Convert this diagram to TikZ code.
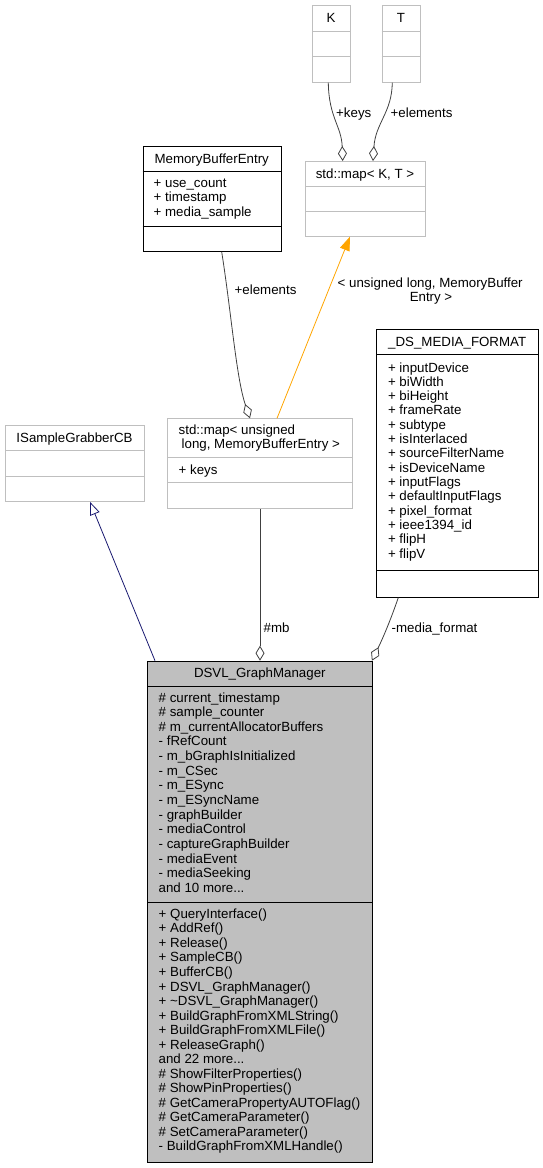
\documentclass[tikz,border=0pt]{standalone}
\usepackage{fontspec}
\setmainfont{Liberation Sans}
\usetikzlibrary{arrows.meta,calc}
\definecolor{boxgray}{RGB}{191,191,191}
\definecolor{edgegray}{RGB}{64,64,64}
\definecolor{navyedge}{RGB}{25,25,112}
\definecolor{tmplorange}{RGB}{255,165,0}
% three full stops, kept in a macro so \foreach does not read them as a range
\newcommand{\traildots}{...}
\begin{document}
\begin{tikzpicture}[x=1pt,y=-1pt,
  txt/.style={font=\fontsize{13.3}{14.5}\selectfont, inner sep=0pt, text=black},
  item/.style={txt, anchor=base west},
  title/.style={txt, anchor=base},
  lbl/.style={txt, anchor=base west},
  classbox/.style={draw=black, line width=0.9pt, anchor=north west, inner sep=0pt},
  tmplbox/.style={draw=boxgray, line width=0.9pt, anchor=north west, inner sep=0pt},
  sep/.style={line width=0.9pt},
  member/.style={draw=edgegray, line width=0.8pt, -{Diamond[open,length=15pt,width=9pt,line width=0.8pt]}},
  inherit/.style={draw=navyedge, line width=0.8pt, -{Triangle[open,length=13pt,width=10pt,line width=0.8pt]}},
  instance/.style={draw=tmplorange, line width=0.8pt, -{Triangle[length=14pt,width=10pt]}, tmplorange},
]
\useasboundingbox (0,0) rectangle (543,1168);

% ---------- class boxes ----------
\node[tmplbox, minimum width=38.3pt, minimum height=76.7pt] (K) at (312,5) {};
\draw[boxgray,sep] ($(K.north west)+(0,26.7)$) -- ($(K.north east)+(0,26.7)$)
                   ($(K.north west)+(0,51.7)$) -- ($(K.north east)+(0,51.7)$);
\node[title] (Kt) at (331,22.8) {K};

\node[tmplbox, minimum width=38.3pt, minimum height=76.7pt] (T) at (381.7,5) {};
\draw[boxgray,sep] ($(T.north west)+(0,26.7)$) -- ($(T.north east)+(0,26.7)$)
                   ($(T.north west)+(0,51.7)$) -- ($(T.north east)+(0,51.7)$);
\node[title] (Tt) at (400.9,22.8) {T};

\node[tmplbox, minimum width=120pt, minimum height=74.7pt] (mapKT) at (305,161) {};
\draw[boxgray,sep] ($(mapKT.north west)+(0,25)$) -- ($(mapKT.north east)+(0,25)$)
                   ($(mapKT.north west)+(0,50)$) -- ($(mapKT.north east)+(0,50)$);
\node[title] (mapKTt) at (365,178) {std::map< K, T >};

\node[classbox, minimum width=138pt, minimum height=105.3pt] (MBE) at (142.7,145.7) {};
\draw[sep] ($(MBE.north west)+(0,26)$) -- ($(MBE.north east)+(0,26)$)
           ($(MBE.north west)+(0,80.3)$) -- ($(MBE.north east)+(0,80.3)$);
\node[title] (MBEt) at (211.7,163.2) {MemoryBufferEntry};
\foreach \t [count=\i] in {+ use\_count, + timestamp, + media\_sample}
  \node[item] (MBEa\i) at (153.5,{187+14.8*(\i-1)}) {\t};

\node[tmplbox, minimum width=185pt, minimum height=90pt] (mapUL) at (167.3,418.3) {};
\draw[boxgray,sep] ($(mapUL.north west)+(0,39.4)$) -- ($(mapUL.north east)+(0,39.4)$)
                   ($(mapUL.north west)+(0,64.4)$) -- ($(mapUL.north east)+(0,64.4)$);
\node[item] (mapULt1) at (178.5,434.3) {std::map< unsigned};
\node[item] (mapULt2) at (181.5,448.6) {long, MemoryBufferEntry >};
\node[item] (mapULa1) at (178.5,474.3) {+ keys};

\node[tmplbox, minimum width=139pt, minimum height=76pt] (ISG) at (5,425) {};
\draw[boxgray,sep] ($(ISG.north west)+(0,25.7)$) -- ($(ISG.north east)+(0,25.7)$)
                   ($(ISG.north west)+(0,51)$) -- ($(ISG.north east)+(0,51)$);
\node[title] (ISGt) at (74.5,442.3) {ISampleGrabberCB};

\node[classbox, minimum width=162.3pt, minimum height=267.4pt] (DS) at (376,329.3) {};
\draw[sep] ($(DS.north west)+(0,25)$) -- ($(DS.north east)+(0,25)$)
           ($(DS.north west)+(0,240.7)$) -- ($(DS.north east)+(0,240.7)$);
\node[title] (DSt) at (457.2,346.2) {\_DS\_MEDIA\_FORMAT};
\foreach \t [count=\i] in {+ inputDevice, + biWidth, + biHeight, + frameRate,
    + subtype, + isInterlaced, + sourceFilterName, + isDeviceName, + inputFlags,
    + defaultInputFlags, + pixel\_format, + ieee1394\_id, + flipH, + flipV}
  \node[item] (DSa\i) at (387.8,{372+14.33*(\i-1)}) {\t};

\node[classbox, fill=boxgray, minimum width=225pt, minimum height=501pt] (DSVL) at (147.3,660.7) {};
\draw[sep] ($(DSVL.north west)+(0,25.3)$) -- ($(DSVL.north east)+(0,25.3)$)
           ($(DSVL.north west)+(0,241.6)$) -- ($(DSVL.north east)+(0,241.6)$);
\node[title] (DSVLt) at (259.8,677.4) {DSVL\_GraphManager};
\foreach \t [count=\i] in {\# current\_timestamp, \# sample\_counter,
    \# m\_currentAllocatorBuffers, - fRefCount, - m\_bGraphIsInitialized,
    - m\_CSec, - m\_ESync, - m\_ESyncName, - graphBuilder, - mediaControl,
    - captureGraphBuilder, - mediaEvent, - mediaSeeking, and 10 more\traildots}
  \node[item] (DSVLa\i) at (158.5,{702+14.66*(\i-1)}) {\t};
\foreach \t [count=\i] in {+ QueryInterface(), + AddRef(), + Release(),
    + SampleCB(), + BufferCB(), + DSVL\_GraphManager(),
    + \textasciitilde DSVL\_GraphManager(), + BuildGraphFromXMLString(),
    + BuildGraphFromXMLFile(), + ReleaseGraph(), and 22 more\traildots,
    \# ShowFilterProperties(), \# ShowPinProperties(),
    \# GetCameraPropertyAUTOFlag(), \# GetCameraParameter(),
    \# SetCameraParameter(), - BuildGraphFromXMLHandle()}
  \node[item] (DSVLm\i) at (158.5,{918.3+14.54*(\i-1)}) {\t};

% ---------- connectors ----------
\draw[member] ($(K.south west)+(16.3,0)$) .. controls ($(K.south west)+(16.8,35)$)
      and ($(mapKT.north west)+(36.5,-35)$) .. ($(mapKT.north west)+(37.7,0)$);
\node[lbl] (lkeys) at (336,117.5) {+keys};

\draw[member] ($(T.south west)+(10.6,0)$) .. controls ($(T.south west)+(10.2,30)$)
      and ($(mapKT.north west)+(70.5,-38)$) .. ($(mapKT.north west)+(68,0)$);
\node[lbl] (lelemT) at (390.5,117.5) {+elements};

\draw[member] ($(MBE.south west)+(79,0)$) .. controls ($(MBE.south west)+(88.5,60)$)
      and ($(mapUL.north west)+(69,-40)$) .. ($(mapUL.north west)+(82.7,0)$);
\node[lbl] (lelemM) at (234.5,294) {+elements};

\draw[instance] ($(mapUL.north west)+(109.7,0)$) -- ($(mapKT.south west)+(45,0)$);
\node[lbl] (ltmpl1) at (337.5,287) {< unsigned long, MemoryBuffer};
\node[title] (ltmpl2) at (431,301.5) {Entry >};

\draw[member] ($(mapUL.south west)+(92.7,0)$) -- ($(DSVL.north west)+(112.7,0)$);
\node[lbl] (lmb) at (263.5,632) {\#mb};

\draw[member] ($(DS.south west)+(22.3,0)$) .. controls ($(DS.south west)+(12,30)$)
      and ($(DSVL.north east)+(6,-15)$) .. ($(DSVL.north east)+(-1.3,0)$);
\node[lbl] (lmedia) at (391.5,632.3) {-media\_format};

\draw[inherit] ($(DSVL.north west)+(7.7,0)$) -- ($(ISG.south west)+(85,0)$);
\end{tikzpicture}
\end{document}
